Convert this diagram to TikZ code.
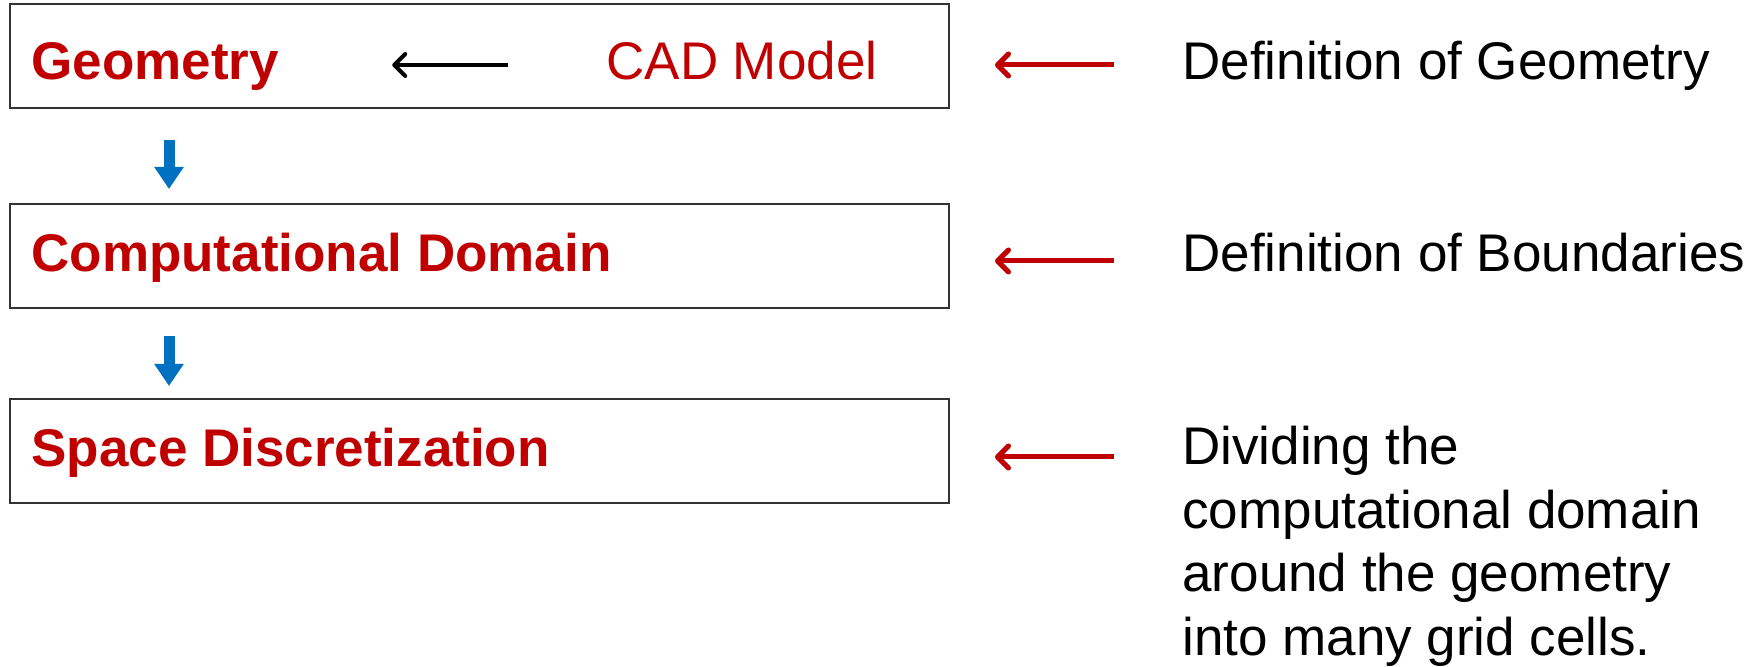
\documentclass[tikz,border=0pt]{standalone}
\usepackage{fontspec}
\setmainfont{Liberation Sans}
\usepackage{tikz}
\usetikzlibrary{arrows.meta,calc}
\definecolor{cadred}{HTML}{C00000}
\definecolor{flowblue}{HTML}{0070C0}

\begin{document}
\begin{tikzpicture}[x=0.5pt,y=-0.5pt]
    \tikzstyle{stagebox} = [draw=black!80, line width=1pt, minimum width=469.5pt, minimum height=52pt, inner sep=0pt, anchor=north west]
    \tikzstyle{stagetxt} = [font=\fontsize{26.5}{31.8}\selectfont\bfseries, text=cadred, anchor=base west, inner sep=0pt]
    \tikzstyle{notetxt} = [font=\fontsize{26.5}{31.75}\selectfont, anchor=base west, inner sep=0pt, align=left]
    \tikzstyle{redarr} = [cadred, line width=2.5pt, -{Straight Barb[round,length=5.5pt,width=11pt]}]
    \tikzstyle{blackarr} = [black, line width=2pt, -{Straight Barb[round,length=5.5pt,width=11pt]}]
    \tikzstyle{bluearr} = [flowblue, line width=5.5pt, -{Triangle[length=11pt,width=14pt]}]

    \useasboundingbox (0,0) rectangle (1760,667);

    % Stage boxes on the left
    \foreach \y/\name in {3/geo, 203/comp, 398/disc} {
        \node[stagebox] (\name box) at (9,\y) {};
    }

    % Stage names
    \node[stagetxt] (geo) at (31,80) {Geometry};
    \node[stagetxt] (comp) at (31,272) {Computational Domain};
    \node[stagetxt] (disc) at (31,467) {Space Discretization};
    \node[notetxt, text=cadred] (cad) at (606,80) {CAD Model};

    % Notes on the right (base of a multi-line node = its last line)
    \node[notetxt] (dgeo) at (1182,80) {Definition of Geometry};
    \node[notetxt] (dbnd) at (1182,272) {Definition of Boundaries};
    \node[notetxt] (ddiv) at (1182,655) {Dividing the\\computational domain\\around the geometry\\into many grid cells.};

    % Arrows
    \draw[blackarr] ([shift={(-98,-15)}]cad.base west) -- ([shift={(113,-15)}]geo.base east);
    \draw[bluearr] ([shift={(160,31)}]geobox.south west) -- ([shift={(160,-14)}]compbox.north west);
    \draw[bluearr] ([shift={(160,27)}]compbox.south west) -- ([shift={(160,-12)}]discbox.north west);
    \foreach \b/\t/\dy in {geobox/dgeo/-15, compbox/dbnd/-11, discbox/ddiv/-198} {
        \coordinate (tail) at ([shift={(-68,\dy)}]\t.base west);
        \draw[redarr] (tail) -- ($(\b.east |- tail)+(45,0)$);
    }
\end{tikzpicture}
\end{document}
